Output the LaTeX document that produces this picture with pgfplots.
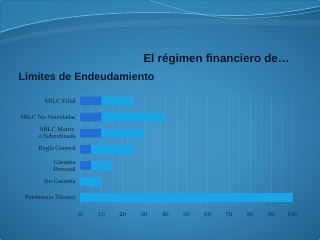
\documentclass[border=0pt]{standalone}
\usepackage{fontspec}
\usepackage{pgfplots}
\pgfplotsset{compat=1.18}
\newfontfamily\sansb{Liberation Sans}
\newfontfamily\serifl{Liberation Serif}
\definecolor{bgin}{RGB}{66,152,204}
\definecolor{bgout}{RGB}{24,84,128}
\definecolor{darkbar}{RGB}{32,112,212}
\definecolor{lightbar}{RGB}{26,166,230}
\definecolor{lab}{RGB}{20,34,56}
\definecolor{ttl}{RGB}{14,22,40}
\begin{document}
\begin{tikzpicture}[x=1pt,y=1pt]
\pgfdeclareradialshading{bgshade}{\pgfpoint{0pt}{-6pt}}{color(0pt)=(bgin); color(14pt)=(bgin!85!bgout); color(40pt)=(bgout)}
\shade[shading=bgshade] (0,0) rectangle (320,240);
% top waves
\fill[cyan!60!bgout, opacity=0.55] (0,240) -- (0,207) .. controls (60,228) and (150,232) .. (200,226) .. controls (250,222) and (290,228) .. (320,234) -- (320,240) -- cycle;
\draw[cyan!45!white, opacity=0.6, line width=0.8pt] (0,208) .. controls (50,226) and (140,231) .. (200,226) .. controls (250,222) and (290,228) .. (320,234);
\draw[cyan!50!white, opacity=0.5, line width=0.6pt] (150,240) .. controls (175,232) and (200,224) .. (230,222) .. controls (265,221) and (300,226) .. (320,230);
\fill[white, opacity=0.06] (0,200) .. controls (80,222) and (170,224) .. (320,220) -- (320,214) .. controls (170,218) and (80,216) .. (0,196) -- cycle;
% titles
\node[anchor=base east, text=ttl, font=\sansb\bfseries\fontsize{11.6}{13}\selectfont, inner sep=0pt] at (290,178) {El régimen financiero de…};
\node[anchor=base west, text=ttl, font=\sansb\bfseries\fontsize{10.7}{12}\selectfont, inner sep=0pt] at (18,160) {Limites de Endeudamiento};
\begin{axis}[
  at={(80pt,34.2pt)}, anchor=south west,
  width=213pt, height=113pt, scale only axis,
  xbar stacked, bar width=8.6pt,
  xmin=0, xmax=100, ymin=-0.5, ymax=6.5,
  axis line style={draw=none},
  xtick={0,10,...,100},
  minor xtick={5,15,...,95},
  xmajorgrids, xminorgrids,
  major grid style={white, opacity=0.07, line width=0.4pt},
  minor grid style={white, opacity=0.05, line width=0.4pt},
  ytick={0,1,2,3,4,5,6},
  yticklabels={Patrimonio Técnico, Sin Garantía, {Garantía\\Personal}, Regla General, {SBLC Matriz\\o Subordinada}, SBLC No Vinculadas, SBLC Filial},
  yticklabel style={font=\serifl\fontsize{6.4}{7}\selectfont, text=lab, align=center, xshift=-1pt},
  xticklabel style={font=\serifl\fontsize{6.4}{7}\selectfont, text=lab, yshift=-4pt},
  xticklabel={\pgfmathprintnumber{\tick}},
  major tick length=0pt, minor tick length=0pt,
]
\addplot[fill=darkbar, draw=none] coordinates {(0,0) (0,1) (5,2) (5,3) (10,4) (10,5) (10,6)};
\addplot[fill=lightbar, draw=none] coordinates {(100,0) (10,1) (10,2) (20,3) (20,4) (30,5) (15,6)};
\end{axis}
\end{tikzpicture}
\end{document}
